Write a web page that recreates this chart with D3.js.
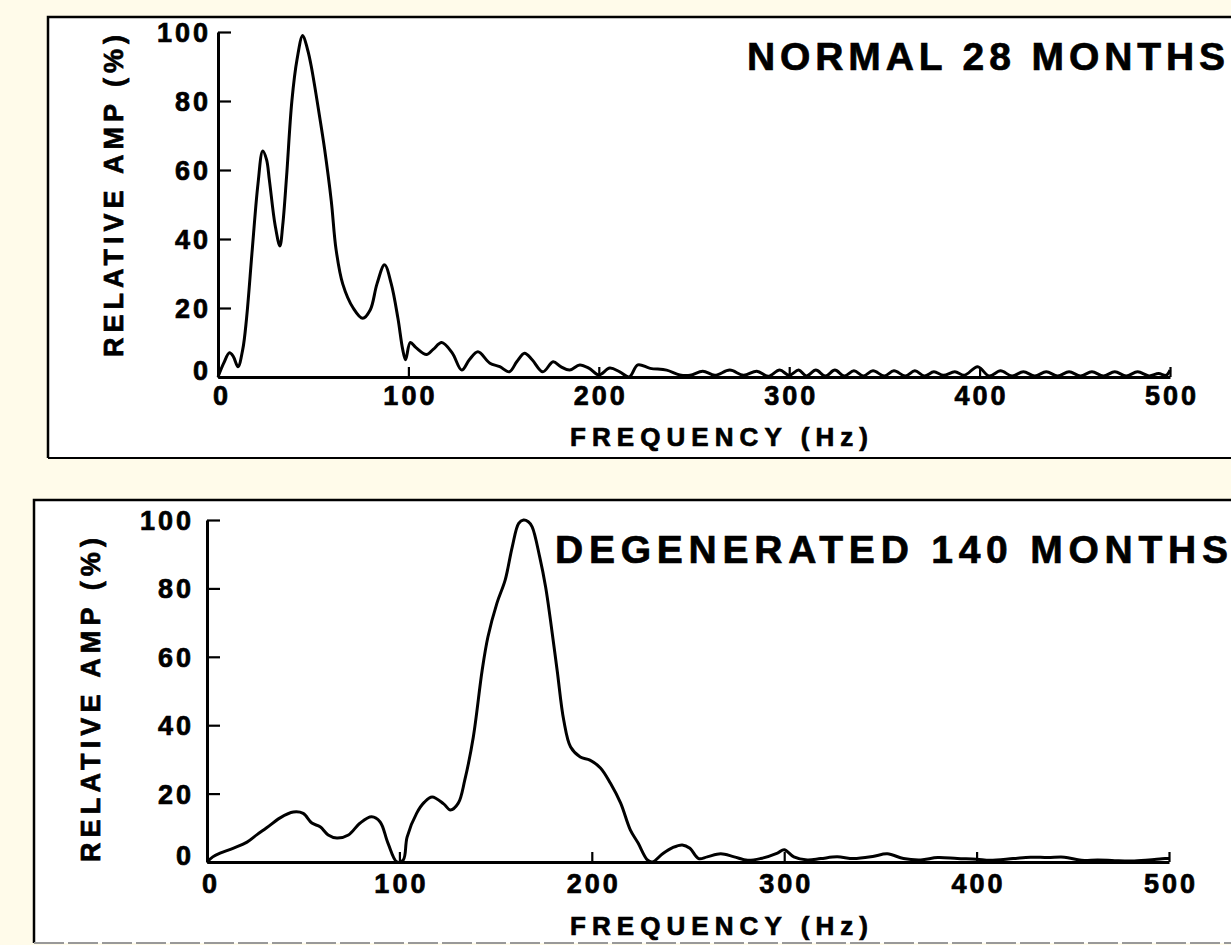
<!DOCTYPE html>
<html>
<head>
<meta charset="utf-8">
<script src="https://cdn.jsdelivr.net/npm/d3@7"></script>
<style>
  html, body { margin: 0; padding: 0; background: #fffbea; }
  svg { display: block; }
  text { font-family: "Liberation Sans", Arial, Helvetica, sans-serif; font-weight: bold; fill: #000; stroke: #000; stroke-width: 0.7px; }
</style>
</head>
<body>
<svg id="chart" width="1231" height="945"></svg>
<script>
// ---- Data ----
const xTicks = [0, 100, 200, 300, 400, 500];
const yTicks = [0, 20, 40, 60, 80, 100];

const normalFreq = [0,3,6,8,10.5,13,15,18,21,23.5,25.5,27,30,32.5,34,36,38.8,41.5,44.5,47,49,53.5,56,59.5,62,65.5,71,76,80,83.5,87.5,91,94.5,97,98.5,101,104,109.5,113,117.5,123,128,132,136.5,142.8,148,153,157,161,165,170.6,176,180,184.7,190,195,200,205.8,211,216,220.5,227,235.6,242.5,248,254.6,261,268.8,276,283,289,295,300,305,309,314,319,324,329,334,339,344,350,355,361,366,371,376,381,387,392,399,405,411,417,423,429,435,441,447,453,459,465,471,477,483,489,494,498,500];
const normalAmp  = [0,4,7,6,3,8,17,37,56,65.5,63,57,44,38,44,58,80,92,99,95,90,75,66,51,37,27,20,17,19.5,27,32.5,27,17,8,5,10,8.5,6.5,8,10,7,2,5,7.3,4,3,1.5,4.5,6.9,5,1.5,4.4,3,2,3.5,2.5,0.6,2.6,1.5,0,3.5,2.5,2,0.6,0.5,1.7,0.5,2,0.5,1.7,0.2,2,0.5,2,0.3,2,0.3,2,0.3,1.8,0.3,1.8,0.3,1.8,0.3,1.8,0.3,1.5,0.5,1.5,0.5,3,0.3,1.8,0.3,1.5,0.3,1.5,0.3,1.5,0.3,1.5,0.3,1.5,0.3,1.5,0.3,1,0.5,2];

const degenFreq = [0,3,6.8,13.5,20.8,26,31,38,44.9,50,54.5,58.8,63,67.5,73.5,79.6,85.6,90,94,98.7,102,104,109,113,117,123,126.5,130.6,134,138.4,143,146,150.7,155,158.6,162,164.5,167,169,173,176,178.5,182,185.4,189,194,199,204.5,209.7,215,220,224,228.9,231.5,237,242,247,251,255.5,260,267,274,281,287.7,296.5,300,305,312,319,327.5,336,346,353.6,362,371,379.8,390,400,407,419,428,437,445.6,454.5,463,471.8,480.6,489.5,498,500];
const degenAmp  = [0,1.5,2.6,4,5.8,8,10,12.9,14.6,14.2,11.4,10.3,7.9,7,7.9,11.4,13.2,11.7,5.6,0,0.6,7.3,14.3,17.5,19,17,15.2,17.2,24,36.5,56,65.8,75.7,82.5,92,99,100,99.5,98,89,80.4,70.8,56,41.5,33.6,30.7,29.8,27.5,23,17.2,9.4,5.6,0.6,0,2.5,4.2,5,4,1,1.5,2.4,1.5,0.5,1,2.6,3.6,1.5,0.6,1,1.5,1,1.6,2.4,1,0.6,1.3,1,0.8,0.5,1,1.4,1.3,1.4,0.5,0.6,0.4,0.3,0.6,1,1];

const titles = ["NORMAL 28 MONTHS", "DEGENERATED 140 MONTHS"];
const xLabel = "FREQUENCY (Hz)";
const yLabel = "RELATIVE AMP (%)";

// ---- Layout ----
const svg = d3.select("#chart");

const panels = [
  { freq: normalFreq, amp: normalAmp, title: titles[0],
    box: {x: 48, y: 17, w: 1240, h: 441, bottomColor: "#000"},
    x0: 218, x1: 1170, y0: 377, y1: 32,
    titleX: 747, titleW: 478, titleY: 70, titleSize: 39,
    yLabX: 123, yLabY: 196, yLabW: 322,
    yTickRight: 211, xLabY: 405, axTitleY: 446 },
  { freq: degenFreq, amp: degenAmp, title: titles[1],
    box: {x: 34, y: 500, w: 1260, h: 443, bottomColor: "#999"},
    x0: 207, x1: 1169, y0: 862, y1: 520,
    titleX: 555, titleW: 673, titleY: 563, titleSize: 39,
    yLabX: 100, yLabY: 700, yLabW: 324,
    yTickRight: 194, xLabY: 893, axTitleY: 935 }
];

panels.forEach(p => {
  const g = svg.append("g");
  g.append("rect")
    .attr("x", p.box.x).attr("y", p.box.y)
    .attr("width", p.box.w).attr("height", p.box.h)
    .attr("fill", "#fff").attr("stroke", "none");
  g.append("path")
    .attr("d", `M${p.box.x + p.box.w},${p.box.y} H${p.box.x} V${p.box.y + p.box.h}`)
    .attr("fill", "none").attr("stroke", "#000").attr("stroke-width", 2.5);
  g.append("line")
    .attr("x1", p.box.x).attr("x2", p.box.x + p.box.w)
    .attr("y1", p.box.y + p.box.h).attr("y2", p.box.y + p.box.h)
    .attr("stroke", p.box.bottomColor).attr("stroke-width", 2)
    .attr("stroke-dasharray", p.box.bottomColor === "#000" ? null : "30,4");

  const x = d3.scaleLinear().domain([0, 500]).range([p.x0, p.x1]);
  const y = d3.scaleLinear().domain([0, 100]).range([p.y0, p.y1]);

  const xAxis = d3.axisBottom(x).tickValues(xTicks).tickSize(-10).tickSizeOuter(0).tickFormat(d3.format("d"));
  const gx = g.append("g").attr("transform", `translate(0,${p.y0})`).call(xAxis);
  gx.select(".domain").attr("stroke", "#000").attr("stroke-width", 3);
  gx.selectAll(".tick line").attr("stroke", "#000").attr("stroke-width", 2.2);
  gx.selectAll(".tick text").remove();
  g.selectAll(".xlab").data(xTicks).enter().append("text")
    .attr("x", d => x(d) + (d === 0 ? 4 : 2))
    .attr("y", p.xLabY)
    .attr("text-anchor", "middle")
    .style("font-size", "27px").style("letter-spacing", "3px")
    .text(d => d);

  const yAxis = d3.axisLeft(y).tickValues(yTicks).tickSize(-13).tickSizeOuter(0).tickFormat(d3.format("d"));
  const gy = g.append("g").attr("transform", `translate(${p.x0},0)`).call(yAxis);
  gy.select(".domain").attr("stroke", "#000").attr("stroke-width", 3);
  gy.selectAll(".tick line").attr("stroke", "#000").attr("stroke-width", 2.2);
  gy.selectAll(".tick text").remove();
  g.selectAll(".ylab").data(yTicks).enter().append("text")
    .attr("x", p.yTickRight)
    .attr("y", d => y(d) + (d === 0 ? 3 : 10))
    .attr("text-anchor", "end")
    .style("font-size", "27px").style("letter-spacing", "3px")
    .text(d => d);

  g.append("text")
    .attr("x", 570).attr("y", p.axTitleY)
    .attr("textLength", 298).attr("lengthAdjust", "spacing")
    .style("font-size", "26px")
    .text(xLabel);
  g.append("text")
    .attr("transform", `translate(${p.yLabX},${p.yLabY}) rotate(-90)`)
    .attr("text-anchor", "middle")
    .attr("textLength", p.yLabW).attr("lengthAdjust", "spacing")
    .style("font-size", "27px")
    .text(yLabel);

  g.append("text")
    .attr("x", p.titleX).attr("y", p.titleY)
    .attr("textLength", p.titleW).attr("lengthAdjust", "spacing")
    .style("font-size", p.titleSize + "px")
    .text(p.title);

  const pts = p.freq.map((f, i) => [f, p.amp[i]]);
  const line = d3.line().x(d => x(d[0])).y(d => y(Math.max(0, d[1]))).curve(d3.curveCatmullRom.alpha(0.5));
  g.append("path").datum(pts)
    .attr("d", line)
    .attr("fill", "none").attr("stroke", "#000")
    .attr("stroke-width", 3).attr("stroke-linejoin", "round");
});
</script>
</body>
</html>
